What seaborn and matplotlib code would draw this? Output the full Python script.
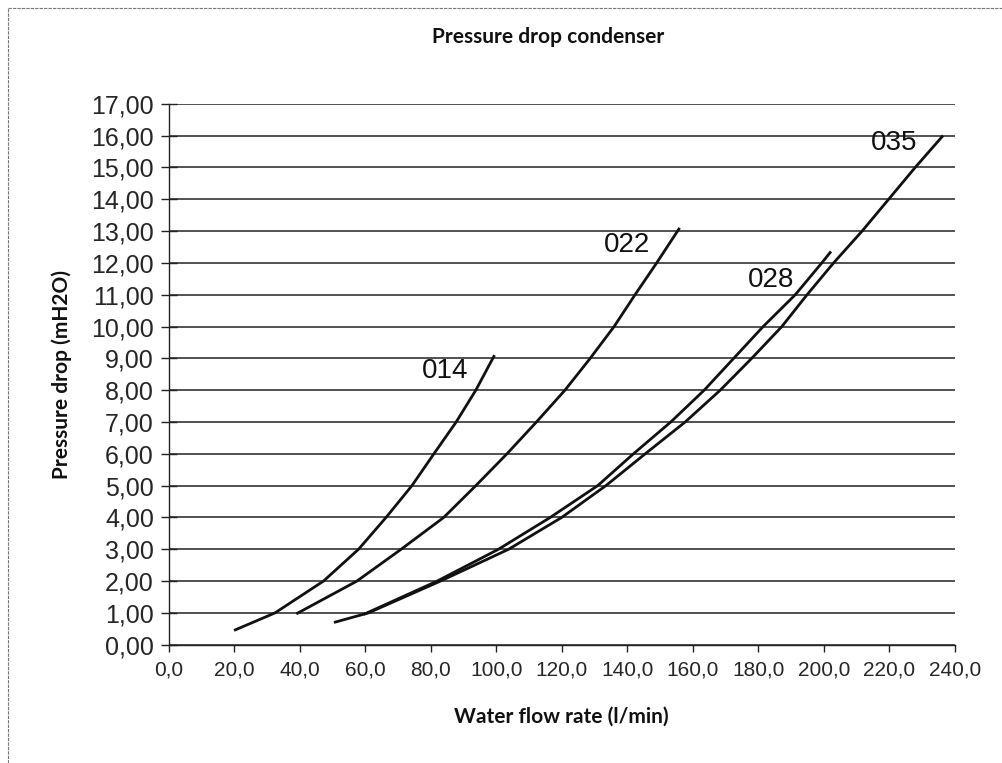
import matplotlib
matplotlib.use("Agg")
import matplotlib.pyplot as plt
import matplotlib.ticker as mticker
from matplotlib.lines import Line2D
import numpy as np
import pandas as pd
import seaborn as sns

# Condenser pressure drop curves per unit size
flow_014 = [20.0, 32.5, 47.3, 58.0, 66.4, 74.3, 81.0, 87.8, 93.8, 99.5]
drop_014 = [0.45, 1.00, 2.00, 3.00, 4.00, 5.00, 6.00, 7.00, 8.00, 9.10]

flow_022 = [39.0, 57.5, 71.0, 84.0, 93.8, 103.3, 112.3, 121.0, 128.7, 136.0, 142.4, 149.0, 156.0]
drop_022 = [0.97, 2.00, 3.00, 4.00, 5.00, 6.00, 7.00, 8.00, 9.00, 10.00, 11.00, 12.00, 13.10]

flow_028 = [59.5, 82.0, 100.7, 116.5, 131.0, 141.9, 153.3, 163.5, 172.5, 181.5, 191.3, 199.4, 202.2]
drop_028 = [0.95, 2.00, 3.00, 4.00, 5.00, 6.00, 7.00, 8.00, 9.00, 10.00, 11.00, 12.00, 12.36]

flow_035 = [50.5, 61.0, 83.0, 103.8, 120.0, 133.5, 145.5, 157.7, 168.4, 178.0, 187.2, 194.9, 203.0,
            211.7, 219.8, 227.9, 236.4]
drop_035 = [0.70, 1.00, 2.00, 3.00, 4.00, 5.00, 6.00, 7.00, 8.00, 9.00, 10.00, 11.00, 12.00,
            13.00, 14.00, 15.00, 16.00]

models = ["014", "022", "028", "035"]
label_pos = {"014": (84.5, 8.6), "022": (140.0, 12.55), "028": (183.8, 11.47), "035": (221.6, 15.77)}

frames = []
for name, fx, fy in zip(models, [flow_014, flow_022, flow_028, flow_035],
                        [drop_014, drop_022, drop_028, drop_035]):
    frames.append(pd.DataFrame({"flow": fx, "drop": fy, "model": name}))
data = pd.concat(frames, ignore_index=True)

sns.set_theme(style="white")
plt.rcParams["font.family"] = ["Liberation Sans", "DejaVu Sans"]

fig = plt.figure(figsize=(10.03, 7.63), dpi=100)
ax = fig.add_axes([0.168, 0.155, 0.784, 0.709])

sns.lineplot(data=data, x="flow", y="drop", units="model", estimator=None, sort=False,
             color="#111111", linewidth=2.0, ax=ax, legend=False,
             solid_joinstyle="round", solid_capstyle="butt")

for name in models:
    x, y = label_pos[name]
    ax.text(x, y, name, ha="center", va="center", fontsize=20, color="#111111")

ax.set_xlim(0, 240)
ax.set_ylim(0, 17)
ax.set_xticks(np.arange(0, 241, 20))
ax.set_yticks(np.arange(0, 18, 1))
ax.xaxis.set_major_formatter(mticker.FuncFormatter(lambda v, p: f"{v:.1f}".replace(".", ",")))
ax.yaxis.set_major_formatter(mticker.FuncFormatter(lambda v, p: f"{v:.2f}".replace(".", ",")))

ax.yaxis.grid(True, color="#222222", linewidth=1.1)
ax.xaxis.grid(False)
ax.set_axisbelow(True)
for side in ["top", "right"]:
    ax.spines[side].set_visible(False)
for side in ["left", "bottom"]:
    ax.spines[side].set_color("#222222")
    ax.spines[side].set_linewidth(1.0)

ax.tick_params(axis="y", direction="inout", length=11, width=1.0, color="#222222",
               labelsize=18, pad=5, left=True)
ax.tick_params(axis="x", direction="out", length=5, width=1.0, color="#222222",
               labelsize=15, pad=6, bottom=True)

bold_font = ["Lato", "DejaVu Sans"]
ax.set_xlabel("Water flow rate (l/min)", fontsize=15, fontweight="bold", family=bold_font,
              labelpad=20, color="#111111")
ax.set_ylabel("Pressure drop (mH2O)", fontsize=15, fontweight="bold", family=bold_font,
              labelpad=14, color="#111111")
fig.text(0.546, 0.952, "Pressure drop condenser", ha="center", va="center", fontsize=15,
         fontweight="bold", family=bold_font, color="#111111")

# thin outer frame on the left and top edges
fig.add_artist(Line2D([0.008, 0.008], [0.0, 0.989], transform=fig.transFigure,
                      color="#777777", linewidth=0.8, linestyle=(0, (3, 1))))
fig.add_artist(Line2D([0.008, 1.0], [0.989, 0.989], transform=fig.transFigure,
                      color="#777777", linewidth=0.8, linestyle=(0, (3, 1))))

fig.savefig("out.png", dpi=100)
